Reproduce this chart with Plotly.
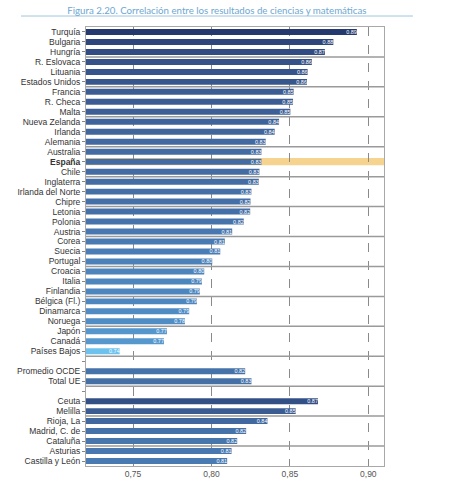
import plotly.graph_objects as go

# ---- data ----
groups = [
    ["Turquía", "Bulgaria", "Hungría"],
    ["R. Eslovaca", "Lituania", "Estados Unidos"],
    ["Francia", "R. Checa", "Malta"],
    ["Nueva Zelanda", "Irlanda", "Alemania"],
    ["Australia", "España", "Chile"],
    ["Inglaterra", "Irlanda del Norte", "Chipre"],
    ["Letonia", "Polonia", "Austria"],
    ["Corea", "Suecia", "Portugal"],
    ["Croacia", "Italia", "Finlandia"],
    ["Bélgica (Fl.)", "Dinamarca", "Noruega"],
    ["Japón", "Canadá", "Países Bajos"],
    ["", "Promedio OCDE", "Total UE"],
    ["", "Ceuta", "Melilla"],
    ["Rioja, La", "Madrid, C. de", "Cataluña"],
    ["Asturias", "Castilla y León"],
]

values = {
    "Turquía": 0.8927, "Bulgaria": 0.8777, "Hungría": 0.8723,
    "R. Eslovaca": 0.8640, "Lituania": 0.8613, "Estados Unidos": 0.8609,
    "Francia": 0.8524, "R. Checa": 0.8520, "Malta": 0.8503,
    "Nueva Zelanda": 0.8431, "Irlanda": 0.8403, "Alemania": 0.8346,
    "Australia": 0.8319, "España": 0.8319, "Chile": 0.8306,
    "Inglaterra": 0.8302, "Irlanda del Norte": 0.8255, "Chipre": 0.8249,
    "Letonia": 0.8247, "Polonia": 0.8206, "Austria": 0.8132,
    "Corea": 0.8085, "Suecia": 0.8056, "Portugal": 0.8005,
    "Croacia": 0.7954, "Italia": 0.7939, "Finlandia": 0.7926,
    "Bélgica (Fl.)": 0.7907, "Dinamarca": 0.7858, "Noruega": 0.7831,
    "Japón": 0.7716, "Canadá": 0.7697, "Países Bajos": 0.7415,
    "Promedio OCDE": 0.8215, "Total UE": 0.8255,
    "Ceuta": 0.8679, "Melilla": 0.8537,
    "Rioja, La": 0.8357, "Madrid, C. de": 0.8221, "Cataluña": 0.8164,
    "Asturias": 0.8128, "Castilla y León": 0.8100,
}

labels = {
    "Turquía": "0.89", "Bulgaria": "0.88", "Hungría": "0.87",
    "R. Eslovaca": "0.86", "Lituania": "0.86", "Estados Unidos": "0.86",
    "Francia": "0.85", "R. Checa": "0.85", "Malta": "0.85",
    "Nueva Zelanda": "0.84", "Irlanda": "0.84", "Alemania": "0.83",
    "Australia": "0.83", "España": "0.83", "Chile": "0.83",
    "Inglaterra": "0.83", "Irlanda del Norte": "0.83", "Chipre": "0.82",
    "Letonia": "0.82", "Polonia": "0.82", "Austria": "0.81",
    "Corea": "0.81", "Suecia": "0.81", "Portugal": "0.80",
    "Croacia": "0.80", "Italia": "0.79", "Finlandia": "0.79",
    "Bélgica (Fl.)": "0.79", "Dinamarca": "0.79", "Noruega": "0.78",
    "Japón": "0.77", "Canadá": "0.77", "Países Bajos": "0.74",
    "Promedio OCDE": "0.82", "Total UE": "0.83",
    "Ceuta": "0.87", "Melilla": "0.85",
    "Rioja, La": "0.84", "Madrid, C. de": "0.82", "Cataluña": "0.82",
    "Asturias": "0.81", "Castilla y León": "0.81",
}

highlight = "España"
x_ticks = [0.75, 0.80, 0.85, 0.90]
x_ticktext = ["0,75", "0,80", "0,85", "0,90"]
x_range = [0.72, 0.91]
title = "Figura 2.20. Correlación entre los resultados de ciencias y matemáticas"

# ---- build rows ----
rows = [name for g in groups for name in g]
pos = list(range(len(rows)))
bar_y = [i for i, n in zip(pos, rows) if n]
bar_names = [n for n in rows if n]
bar_x = [values[n] for n in bar_names]
bar_text = [labels[n] for n in bar_names]
ticktext = [("<b>%s</b>" % n if n == highlight else n) for n in rows]

# group boundaries
bounds = []
c = 0
for g in groups[:-1]:
    c += len(g)
    bounds.append(c - 0.5)

colorscale = [
    [0.0, "#6ec4ef"],
    [0.2, "#5597cd"],
    [0.33, "#4e87c0"],
    [0.52, "#4674aa"],
    [0.72, "#3d5f96"],
    [1.0, "#243a6f"],
]

fig = go.Figure()
fig.add_trace(go.Bar(
    x=bar_x, y=bar_y, orientation="h", width=0.6,
    marker=dict(color=bar_x, colorscale=colorscale, cmin=0.74, cmax=0.893,
                line=dict(width=0)),
    text=bar_text, textposition="inside", insidetextanchor="end",
    textfont=dict(size=5.5, color="white", family="Liberation Sans"),
    constraintext="none", cliponaxis=True,
    hoverinfo="x+y", showlegend=False,
))

shapes = []
# highlight band
hi = rows.index(highlight)
shapes.append(dict(type="rect", xref="x domain", yref="y", x0=0, x1=1,
                   y0=hi - 0.36, y1=hi + 0.36, fillcolor="#f6d38e",
                   line=dict(width=0), layer="below"))
# group separators
for b in bounds:
    shapes.append(dict(type="line", xref="x domain", yref="y", x0=0, x1=1,
                       y0=b, y1=b, line=dict(color="#9a9a9a", width=1.5),
                       layer="above"))
# title underline
shapes.append(dict(type="line", xref="paper", yref="paper", x0=-0.218, x1=1.097,
                   y0=1.025, y1=1.025, line=dict(color="#9ec5df", width=1)))

fig.update_layout(
    width=450, height=495,
    margin=dict(l=86, r=66, t=27, b=29),
    paper_bgcolor="white", plot_bgcolor="white",
    title=dict(text=title, x=0.482, xanchor="center", y=0.979, yanchor="middle",
               yref="container",
               font=dict(family="Lato", size=9.7, color="#6ea7d1")),
    shapes=shapes,
    xaxis=dict(range=x_range, tickvals=x_ticks, ticktext=x_ticktext,
               showgrid=True, gridcolor="#8a8a8a", griddash="dash", gridwidth=1,
               zeroline=False, showline=True, linecolor="#a8a8a8", linewidth=1,
               mirror=True, ticks="", tickfont=dict(family="Liberation Sans", size=8.5, color="#555555")),
    yaxis=dict(range=[len(rows) - 0.5, -0.5], tickvals=pos, ticktext=ticktext,
               showgrid=False, zeroline=False, showline=True, linecolor="#a8a8a8",
               linewidth=1, mirror=True, ticks="outside", ticklen=3, tickwidth=1,
               tickcolor="#888888",
               tickfont=dict(family="Liberation Sans", size=8.5, color="#333333")),
    font=dict(family="Liberation Sans"),
)

fig.write_html("out.html", config={"displayModeBar": False},
               post_script="document.body.style.margin='0';")
